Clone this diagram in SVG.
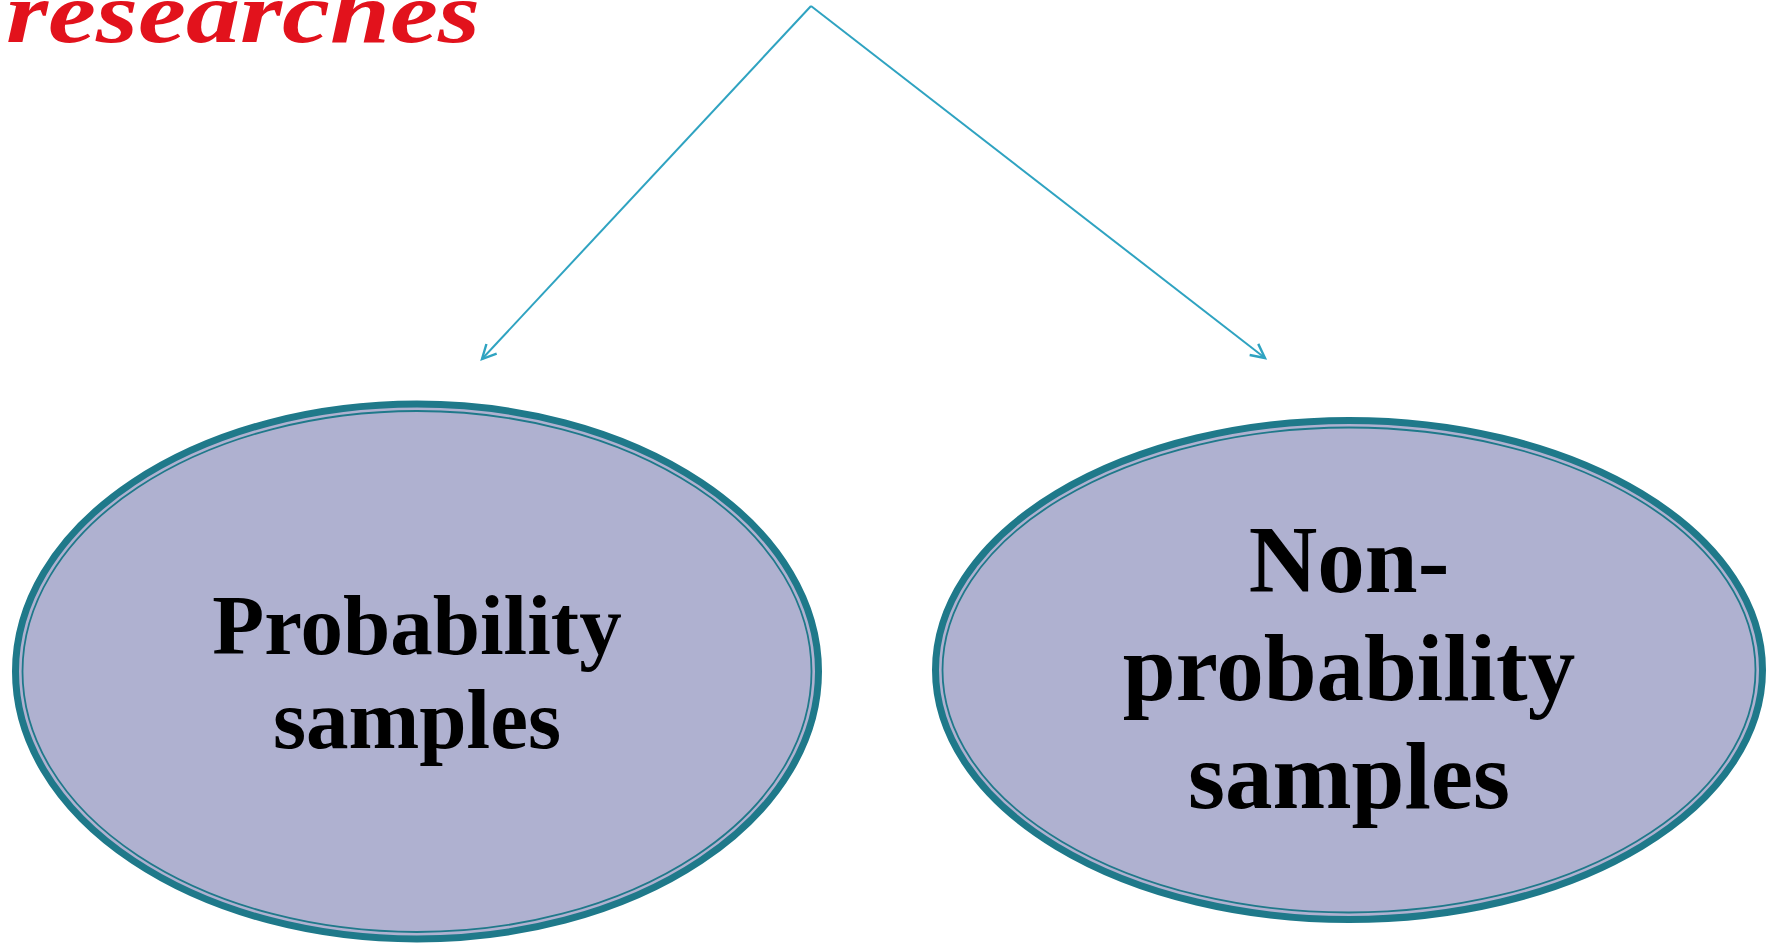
<svg xmlns="http://www.w3.org/2000/svg" width="1769" height="944" viewBox="0 0 1769 944">
<style>
.outer{fill:#AFB1D0;stroke:#1F798A;stroke-width:7}
.inner{fill:none;stroke:#1F798A;stroke-width:1.8}
.lbl{font-family:"Liberation Serif","Times New Roman",serif;font-weight:bold;fill:#000;text-anchor:middle}
.ttl{font-family:"Liberation Serif","Times New Roman",serif;font-weight:bold;font-style:italic;fill:#E2121C}
.conn{stroke:#2FA3C1;stroke-width:2;fill:none}
</style>
<defs>
<marker id="ah" markerWidth="20" markerHeight="20" refX="17" refY="10" orient="auto" markerUnits="userSpaceOnUse">
<path d="M3,3 L17,10 L3,17" fill="none" stroke="#2FA3C1" stroke-width="2.4"/>
</marker>
</defs>
<rect width="1769" height="944" fill="#fff"/>
<g id="title">
<text class="ttl" x="6" y="42" font-size="86" textLength="474" lengthAdjust="spacingAndGlyphs">researches</text>
</g>
<g id="connectors">
<line class="conn" x1="811" y1="6" x2="482" y2="359" marker-end="url(#ah)"/>
<line class="conn" x1="811" y1="6" x2="1265" y2="358" marker-end="url(#ah)"/>
</g>
<g id="node-probability">
<ellipse class="outer" cx="417" cy="671.5" rx="401.5" ry="267.5"/>
<ellipse class="inner" cx="417" cy="671.5" rx="394.5" ry="260.5"/>
<text class="lbl" font-size="85" x="417" y="654">Probability</text>
<text class="lbl" font-size="85" x="417" y="748">samples</text>
</g>
<g id="node-nonprobability">
<ellipse class="outer" cx="1349" cy="670" rx="413.5" ry="249.5"/>
<ellipse class="inner" cx="1349" cy="670" rx="406.5" ry="242.5"/>
<text class="lbl" font-size="95" x="1349" y="592">Non-</text>
<text class="lbl" font-size="95" x="1349" y="700">probability</text>
<text class="lbl" font-size="95" x="1349" y="808">samples</text>
</g>
</svg>
